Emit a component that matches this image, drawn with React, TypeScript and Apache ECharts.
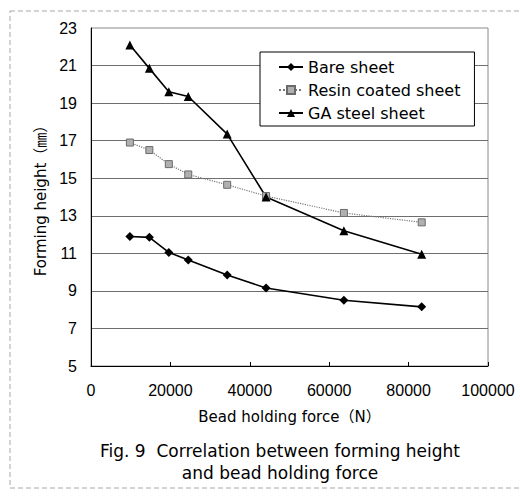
import React, { useEffect, useRef } from "react";
import * as echarts from "echarts";

// Bead holding force (N)
const forces = [9800, 14700, 19600, 24500, 34300, 44100, 63700, 83300];
// Forming height (mm)
const bareSheet = [11.9, 11.85, 11.05, 10.65, 9.85, 9.15, 8.5, 8.15];
const resinCoatedSheet = [16.9, 16.5, 15.75, 15.2, 14.65, 14.05, 13.15, 12.65];
const gaSteelSheet = [22.1, 20.85, 19.6, 19.35, 17.35, 14.0, 12.2, 10.95];

const seriesNames = ["Bare sheet", "Resin coated sheet", "GA steel sheet"];
const captionLines = [
  "Fig. 9  Correlation between forming height",
  "and bead holding force",
];

export default function App() {
  const ref = useRef<HTMLDivElement>(null);

  useEffect(() => {
    if (!ref.current) return;
    const chart = echarts.init(ref.current, undefined, { renderer: "svg" });
    const pair = (ys: number[]) => forces.map((x, i) => [x, ys[i]]);
    const tickFont = "'Liberation Sans', Arial, sans-serif";
    const textFont = "'DejaVu Sans', 'Noto Sans CJK JP', sans-serif";

    chart.setOption({
      animation: false,
      backgroundColor: "#ffffff",
      grid: {
        left: 91,
        right: 32,
        top: 28,
        bottom: 133,
        containLabel: false,
        show: true,
        borderColor: "#8a8a8a",
        borderWidth: 1,
        backgroundColor: "transparent",
      },
      xAxis: {
        type: "value",
        min: 0,
        max: 100000,
        interval: 20000,
        name: "Bead holding force（N）",
        nameLocation: "middle",
        nameGap: 43,
        nameTextStyle: { fontSize: 15, color: "#000", fontFamily: textFont },
        axisLine: { show: true, lineStyle: { color: "#000", width: 1 } },
        axisTick: { show: true, inside: true, length: 4, lineStyle: { color: "#000" } },
        axisLabel: {
          fontSize: 16,
          color: "#000",
          margin: 16,
          fontFamily: tickFont,
          formatter: (v: number) => String(v),
        },
        splitLine: { show: false },
      },
      yAxis: {
        type: "value",
        min: 5,
        max: 23,
        interval: 2,
        name: "Forming height（㎜）",
        nameLocation: "middle",
        nameGap: 40,
        nameTextStyle: { fontSize: 15, color: "#000", fontFamily: textFont },
        axisLine: { show: true, lineStyle: { color: "#000", width: 1 } },
        axisTick: { show: false },
        axisLabel: {
          fontSize: 16,
          color: "#000",
          margin: 14,
          fontFamily: tickFont,
          formatter: (v: number) => String(v),
        },
        splitLine: {
          show: true,
          showMinLine: false,
          showMaxLine: false,
          lineStyle: { color: "#6e6e6e", width: 1 },
        },
      },
      legend: {
        orient: "vertical",
        left: 260,
        top: 52,
        data: seriesNames,
        backgroundColor: "#ffffff",
        borderColor: "#000",
        borderWidth: 1,
        padding: [7, 14, 5, 18],
        itemGap: 7,
        itemWidth: 24,
        itemHeight: 10,
        textStyle: { fontSize: 16, color: "#000", fontFamily: textFont },
      },
      graphic: [
        {
          type: "rect",
          shape: { x: 10, y: 11, width: 540, height: 477 },
          style: { fill: "none", stroke: "#a8a8a8", lineWidth: 1, lineDash: [5, 3] },
          silent: true,
          z: -10,
        },
        {
          type: "text",
          x: 280,
          y: 451,
          style: {
            text: captionLines[0],
            fontSize: 17,
            fontFamily: textFont,
            fill: "#000",
            align: "center",
            verticalAlign: "middle",
          },
        },
        {
          type: "text",
          x: 280,
          y: 473,
          style: {
            text: captionLines[1],
            fontSize: 17,
            fontFamily: textFont,
            fill: "#000",
            align: "center",
            verticalAlign: "middle",
          },
        },
      ],
      series: [
        {
          name: seriesNames[0],
          type: "line",
          data: pair(bareSheet),
          symbol: "diamond",
          symbolSize: 9,
          itemStyle: { color: "#000" },
          lineStyle: { color: "#000", width: 1.6 },
        },
        {
          name: seriesNames[1],
          type: "line",
          data: pair(resinCoatedSheet),
          symbol: "rect",
          symbolSize: 7,
          itemStyle: { color: "#b0b0b0", borderColor: "#6a6a6a", borderWidth: 1 },
          lineStyle: { color: "#777", width: 1.2, type: "dotted" },
        },
        {
          name: seriesNames[2],
          type: "line",
          data: pair(gaSteelSheet),
          symbol: "triangle",
          symbolSize: 9,
          itemStyle: { color: "#000" },
          lineStyle: { color: "#000", width: 1.6 },
        },
      ],
    });

    return () => chart.dispose();
  }, []);

  return (
    <div
      ref={ref}
      style={{ position: "fixed", left: 0, top: 0, width: 520, height: 499, background: "#fff" }}
    />
  );
}
